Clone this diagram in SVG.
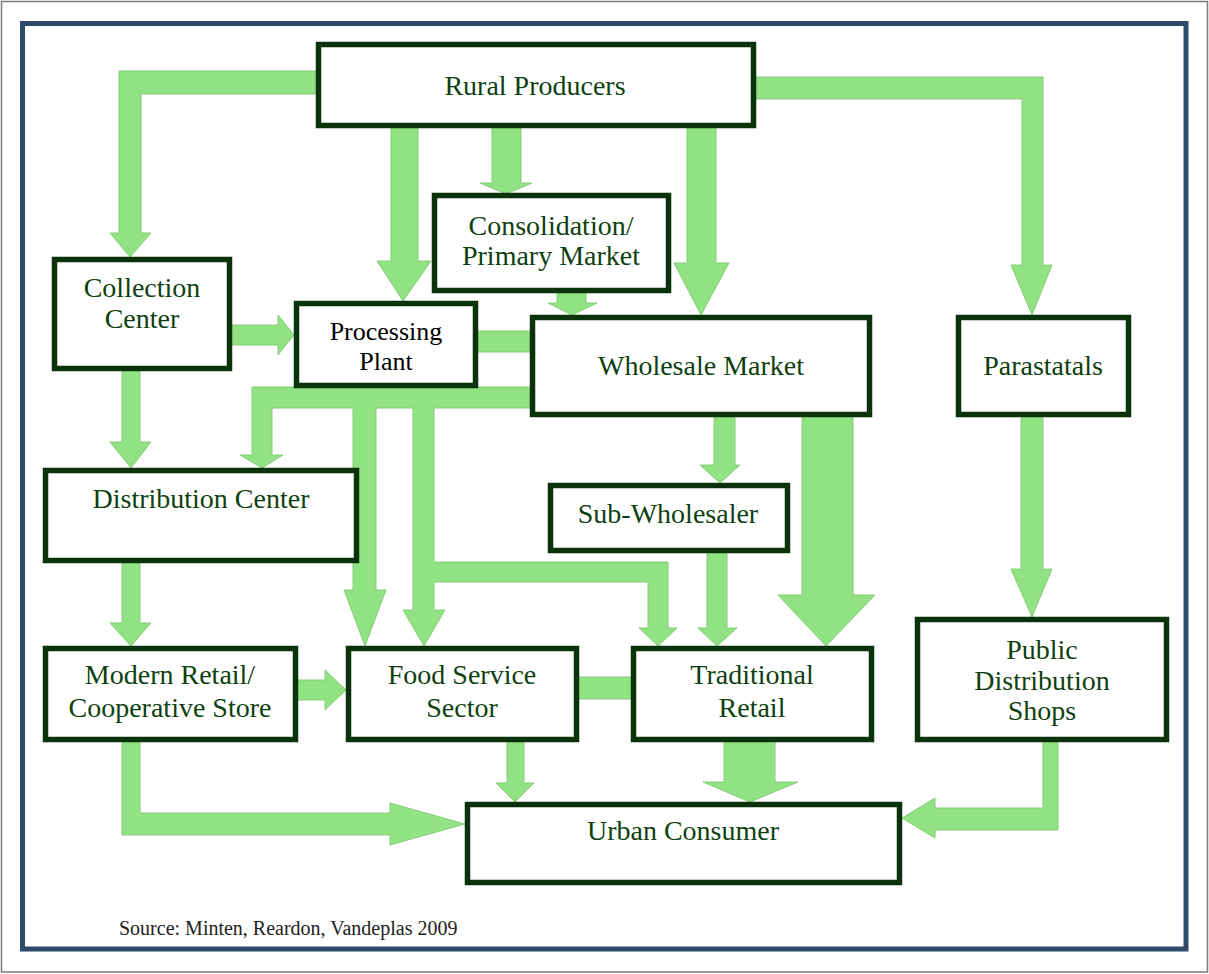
<svg xmlns="http://www.w3.org/2000/svg" width="1209" height="974" viewBox="0 0 1209 974">
<style>
.box{fill:#ffffff;stroke:#0b330b;stroke-width:5.5}
.lbl{font-family:"Liberation Serif","Times New Roman",serif;font-size:28px;fill:#0e3f10;text-anchor:middle}
.lblb{font-family:"Liberation Serif","Times New Roman",serif;font-size:26px;fill:#000000;text-anchor:middle}
.arr{fill:#91e283;stroke:#86cc79;stroke-width:1;stroke-linejoin:miter}
.src{font-family:"Liberation Serif","Times New Roman",serif;font-size:20px;fill:#222222}
</style>
<rect x="0" y="0" width="1209" height="974" fill="#ffffff"/>
<rect x="1.5" y="1.5" width="1206" height="970.5" fill="none" stroke="#7a7a7a" stroke-width="1.5"/>
<rect x="22.5" y="23.5" width="1163.5" height="925.5" fill="none" stroke="#2d4a6b" stroke-width="5"/>
<g id="connectors">
  <!-- Rural -> Collection -->
  <path class="arr" d="M320,71 L119,71 L119,233 L110,233 L130,257 L151,233 L141,233 L141,94 L320,94 Z"/>
  <!-- Rural -> Processing -->
  <path class="arr" d="M391,126 L391,261 L377,261 L403,301 L431,261 L418,261 L418,126 Z"/>
  <!-- Rural -> Consolidation -->
  <path class="arr" d="M492,126 L492,183 L480,183 L506,194 L532,183 L521,183 L521,126 Z"/>
  <!-- Rural -> Wholesale -->
  <path class="arr" d="M687,126 L687,263 L674,263 L701,315 L729,263 L716,263 L716,126 Z"/>
  <!-- Rural -> Parastatals -->
  <path class="arr" d="M752,77 L1043,77 L1043,265 L1052,265 L1032,315 L1011,265 L1022,265 L1022,99 L752,99 Z"/>
  <!-- Consolidation -> Wholesale -->
  <path class="arr" d="M557,291 L557,303 L548,303 L572,315 L597,303 L586,303 L586,291 Z"/>
  <!-- Collection -> Processing -->
  <path class="arr" d="M230,325 L278,325 L278,315 L294,335 L278,355 L278,345 L230,345 Z"/>
  <!-- Collection -> Distribution -->
  <path class="arr" d="M122,369 L122,442 L110,442 L131,468 L151,442 L140,442 L140,369 Z"/>
  <!-- Processing - Wholesale bar -->
  <path class="arr" d="M476,331 L532,331 L532,352 L476,352 Z"/>
  <!-- Wholesale left bar with branches -->
  <path class="arr" d="M532,387 L252,387 L252,455 L240,455 L262,468 L283,455 L272,455 L272,408 L353,408 L353,590 L344,590 L365,646 L386,590 L376,590 L376,408 L413,408 L413,610 L403,610 L424,646 L445,610 L434,610 L434,582 L648,582 L648,628 L639,628 L658,646 L677,628 L668,628 L668,562 L434,562 L434,408 L532,408 Z"/>
  <!-- Wholesale -> Sub-Wholesaler -->
  <path class="arr" d="M714,415 L714,465 L700,465 L720,483 L740,465 L735,465 L735,415 Z"/>
  <!-- Sub-Wholesaler -> Traditional -->
  <path class="arr" d="M707,551 L707,628 L698,628 L717,646 L737,628 L727,628 L727,551 Z"/>
  <!-- Wholesale -> Traditional (big) -->
  <path class="arr" d="M802,415 L802,595 L778,595 L826,646 L875,595 L853,595 L853,415 Z"/>
  <!-- Parastatals -> Public Distribution -->
  <path class="arr" d="M1021,415 L1021,569 L1011,569 L1032,617 L1052,569 L1043,569 L1043,415 Z"/>
  <!-- Public Distribution -> Urban -->
  <path class="arr" d="M1043,740 L1058,740 L1058,830 L935,830 L935,838 L902,818 L935,798 L935,808 L1043,808 Z"/>
  <!-- Traditional -> Urban -->
  <path class="arr" d="M724,740 L724,782 L703,782 L750,802 L798,782 L775,782 L775,740 Z"/>
  <!-- Food Service - Traditional bar -->
  <path class="arr" d="M577,677 L633,677 L633,699 L577,699 Z"/>
  <!-- Distribution -> Modern Retail -->
  <path class="arr" d="M122,561 L122,623 L110,623 L131,646 L151,623 L140,623 L140,561 Z"/>
  <!-- Modern Retail -> Food Service -->
  <path class="arr" d="M296,680 L325,680 L325,670 L346,690 L325,710 L325,700 L296,700 Z"/>
  <!-- Food Service -> Urban -->
  <path class="arr" d="M507,740 L507,783 L496,783 L515,802 L534,783 L524,783 L524,740 Z"/>
  <!-- Modern Retail -> Urban -->
  <path class="arr" d="M122,740 L140,740 L140,813 L390,813 L390,803 L465,824 L390,845 L390,835 L122,835 Z"/>
</g>
<g id="rural-producers">
  <rect class="box" x="318.5" y="44.5" width="435" height="81"/>
  <text class="lbl" x="535" y="95">Rural Producers</text>
</g>
<g id="consolidation">
  <rect class="box" x="434.5" y="195.5" width="234" height="95"/>
  <text class="lbl" x="551" y="235">Consolidation/</text>
  <text class="lbl" x="551" y="265">Primary Market</text>
</g>
<g id="collection-center">
  <rect class="box" x="54.5" y="259.5" width="175" height="109"/>
  <text class="lbl" x="142" y="297">Collection</text>
  <text class="lbl" x="142" y="328">Center</text>
</g>
<g id="processing-plant">
  <rect class="box" x="296.5" y="303.5" width="179" height="82"/>
  <text class="lblb" x="386" y="340">Processing</text>
  <text class="lblb" x="386" y="370">Plant</text>
</g>
<g id="wholesale-market">
  <rect class="box" x="532.5" y="317.5" width="337" height="97"/>
  <text class="lbl" x="701" y="375">Wholesale Market</text>
</g>
<g id="parastatals">
  <rect class="box" x="958.5" y="317.5" width="170" height="97"/>
  <text class="lbl" x="1043" y="375">Parastatals</text>
</g>
<g id="distribution-center">
  <rect class="box" x="45.5" y="470.5" width="311" height="90"/>
  <text class="lbl" x="201" y="508">Distribution Center</text>
</g>
<g id="sub-wholesaler">
  <rect class="box" x="550.5" y="485.5" width="237" height="65"/>
  <text class="lbl" x="668" y="523">Sub-Wholesaler</text>
</g>
<g id="modern-retail">
  <rect class="box" x="45.5" y="648.5" width="250" height="91"/>
  <text class="lbl" x="170" y="684">Modern Retail/</text>
  <text class="lbl" x="170" y="717">Cooperative Store</text>
</g>
<g id="food-service">
  <rect class="box" x="348.5" y="648.5" width="228" height="91"/>
  <text class="lbl" x="462" y="684">Food Service</text>
  <text class="lbl" x="462" y="717">Sector</text>
</g>
<g id="traditional-retail">
  <rect class="box" x="633.5" y="648.5" width="238" height="91"/>
  <text class="lbl" x="752" y="684">Traditional</text>
  <text class="lbl" x="752" y="717">Retail</text>
</g>
<g id="public-distribution">
  <rect class="box" x="917.5" y="619.5" width="249" height="120"/>
  <text class="lbl" x="1042" y="659">Public</text>
  <text class="lbl" x="1042" y="690">Distribution</text>
  <text class="lbl" x="1042" y="720">Shops</text>
</g>
<g id="urban-consumer">
  <rect class="box" x="467.5" y="804.5" width="432" height="78"/>
  <text class="lbl" x="683" y="840">Urban Consumer</text>
</g>
<text class="src" x="119" y="935">Source: Minten, Reardon, Vandeplas 2009</text>
</svg>
